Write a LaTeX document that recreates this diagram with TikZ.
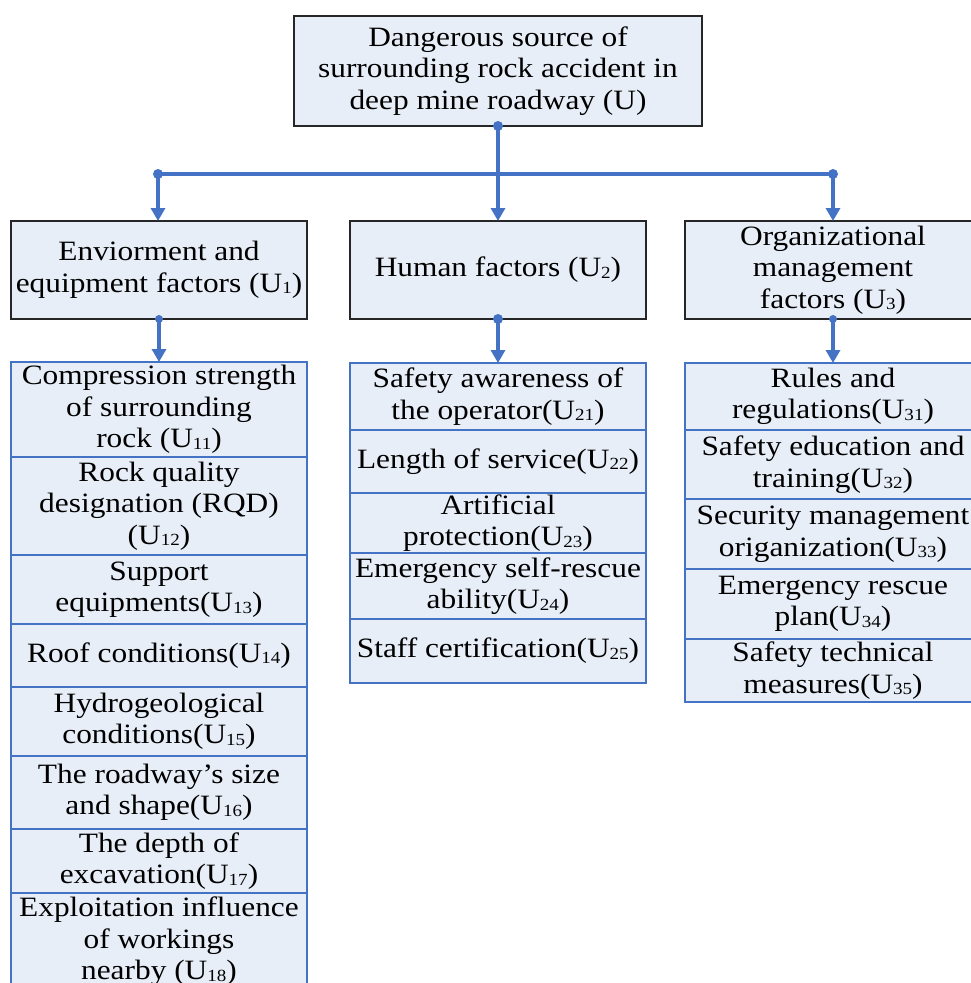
\documentclass[tikz,border=0pt]{standalone}
\usepackage{fontspec}
\setmainfont[FakeStretch=1.12]{Liberation Serif}
\usetikzlibrary{arrows.meta}
\definecolor{boxfill}{HTML}{E8EEF8}
\definecolor{lineblue}{HTML}{4472C4}
\definecolor{darkline}{HTML}{262626}
\newcommand\usub[1]{\raisebox{-1.5pt}{\fontsize{17}{17}\selectfont #1}}
\begin{document}
\begin{tikzpicture}[x=1pt,y=-1pt,
  txt/.style={font=\fontsize{28}{31.5}\selectfont, align=center, inner sep=0pt, outer sep=0pt, text=black},
  headbox/.style={txt, draw=darkline, line width=1.3pt, fill=boxfill},
  cell/.style={txt, draw=lineblue, line width=2.5pt, fill=boxfill, minimum width=296pt},
  conn/.style={draw=lineblue, line width=3.5pt, -{Triangle[width=14pt,length=13pt]}},
  bar/.style={draw=lineblue, line width=3.5pt},
  dot/.style={fill=lineblue}
]
\useasboundingbox (0,0) rectangle (971,983);

% top
\node[headbox, minimum width=408pt, minimum height=110pt] (top) at (498,71)
  {Dangerous source of\\surrounding rock accident in\\deep mine roadway (U)};

% level 2
\node[headbox, minimum width=296pt, minimum height=98pt] (h1) at (159,270)
  {Enviorment and\\equipment factors (U\usub{1})};
\node[headbox, minimum width=296pt, minimum height=98pt] (h2) at (498,270)
  {Human factors (U\usub{2})};
\node[headbox, minimum width=296pt, minimum height=98pt] (h3) at (833,270)
  {Organizational\\management\\factors (U\usub{3})};

% left column
\node[cell, minimum height=95pt] (l1) at (159,409.5) {Compression strength\\of surrounding\\rock (U\usub{11})};
\node[cell, minimum height=98pt] (l2) at (159,506) {Rock quality\\designation (RQD)\\(U\usub{12})};
\node[cell, minimum height=69pt] (l3) at (159,589.5) {Support\\equipments(U\usub{13})};
\node[cell, minimum height=63pt] (l4) at (159,655.5) {Roof conditions(U\usub{14})};
\node[cell, minimum height=69pt] (l5) at (159,721.5) {Hydrogeological\\conditions(U\usub{15})};
\node[cell, minimum height=73pt] (l6) at (159,792.5) {The roadway’s size\\and shape(U\usub{16})};
\node[cell, minimum height=64pt] (l7) at (159,861) {The depth of\\excavation(U\usub{17})};
\node[cell, minimum height=97pt] (l8) at (159,941.5) {Exploitation influence\\of workings\\nearby (U\usub{18})};

% middle column
\node[cell, minimum height=67pt] (m1) at (498,396.5) {Safety awareness of\\the operator(U\usub{21})};
\node[cell, minimum height=63pt] (m2) at (498,461.5) {Length of service(U\usub{22})};
\node[cell, minimum height=60pt] (m3) at (498,523) {Artificial\\protection(U\usub{23})};
\node[cell, minimum height=66pt] (m4) at (498,586) {Emergency self-rescue\\ability(U\usub{24})};
\node[cell, minimum height=64pt] (m5) at (498,651) {Staff certification(U\usub{25})};

% right column
\node[cell, minimum height=67pt] (r1) at (833,396.5) {Rules and\\regulations(U\usub{31})};
\node[cell, minimum height=69pt] (r2) at (833,464.5) {Safety education and\\training(U\usub{32})};
\node[cell, minimum height=70pt] (r3) at (833,534) {Security management\\origanization(U\usub{33})};
\node[cell, minimum height=70pt] (r4) at (833,604) {Emergency rescue\\plan(U\usub{34})};
\node[cell, minimum height=63pt] (r5) at (833,670.5) {Safety technical\\measures(U\usub{35})};

% connectors
\coordinate (bl) at (158,174);
\coordinate (br) at (833,174);
\draw[bar] (bl) -- (br);
\draw[conn] (top.south) -- (h2.north);
\draw[conn] (bl) -- (bl |- h1.north);
\draw[conn] (br) -- (br |- h3.north);
\draw[conn] (h1.south) -- (l1.north);
\draw[conn] (h2.south) -- (m1.north);
\draw[conn] (h3.south) -- (r1.north);
\fill[dot] (top.south) circle[radius=5pt];
\fill[dot] (bl) circle[radius=5pt];
\fill[dot] (br) circle[radius=5pt];
\fill[dot] (h1.south) circle[radius=4pt];
\fill[dot] (h2.south) circle[radius=5pt];
\fill[dot] (h3.south) circle[radius=4pt];
\end{tikzpicture}
\end{document}
